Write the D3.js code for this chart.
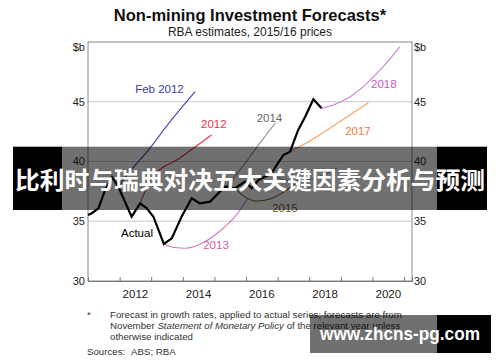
<!DOCTYPE html>
<html><head><meta charset="utf-8">
<script src="https://cdn.jsdelivr.net/npm/d3@7"></script>
<style>
html,body{margin:0;padding:0;background:#fff;}
svg{display:block;font-family:"Liberation Sans",Arial,sans-serif;}
</style></head>
<body>
<svg id="chart" width="500" height="362"></svg>
<script>
// ---------- data ----------
const title = "Non-mining Investment Forecasts*";
const subtitle = "RBA estimates, 2015/16 prices";
const yTicks = [30, 35, 40, 45];
const yGrid = [35, 40, 45];
const xYearTicks = [2012, 2013, 2014, 2015, 2016, 2017, 2018, 2019, 2020, 2021];
const xLabels = [2012, 2014, 2016, 2018, 2020];

const actualYears  = [2011.00,2011.12,2011.33,2011.54,2011.76,2011.96,2012.38,2012.65,2012.86,2013.07,2013.40,2013.65,2013.96,2014.28,2014.54,2014.86,2015.12,2015.33,2015.65,2015.97,2016.18,2016.39,2016.81,2016.97,2017.18,2017.39,2017.65,2017.87,2018.13,2018.39];
const actualValues = [35.52,35.67,36.08,37.62,38.70,37.89,35.38,36.50,36.08,35.38,33.10,33.57,35.38,36.92,36.50,36.64,37.34,37.89,37.76,38.31,37.76,38.45,39.01,39.71,40.54,40.82,42.64,43.75,45.21,44.45];

const feb2012Years  = [2011.96,2012.42,2012.91,2013.59,2014.39];
const feb2012Values = [37.89,39.46,40.96,43.31,45.84];
const f2012Years  = [2012.65,2013.02,2013.91,2014.91];
const f2012Values = [36.50,38.62,40.29,42.22];
const f2013Years  = [2013.40,2013.75,2014.07,2014.70,2015.33,2015.65,2016.06];
const f2013Values = [33.10,32.80,32.74,33.29,34.54,35.38,36.95];
const f2014Years  = [2014.86,2015.18,2015.55,2015.97,2016.44,2016.92];
const f2014Values = [36.64,37.45,38.45,39.85,41.55,43.20];
const f2015Years  = [2015.65,2015.97,2016.35,2016.76,2017.14,2017.55];
const f2015Values = [37.76,37.03,36.69,36.86,37.36,38.12];
const f2016Years  = [2016.81,2017.23,2017.71,2018.28,2018.88];
const f2016Values = [39.01,38.45,38.37,38.70,39.46];
const f2017Years  = [2017.39,2018.02,2018.66,2019.29,2019.87];
const f2017Values = [40.82,41.72,42.80,43.89,44.92];
const f2018Years  = [2018.39,2018.76,2019.29,2019.82,2020.34,2020.87];
const f2018Values = [44.45,44.73,45.42,46.54,47.93,49.61];

const seriesNames  = ["Feb 2012","2012","2013","2014","2015","2016","2017","2018"];
const seriesColors = ["#4444aa","#e8333f","#d27cbf","#8a8a8a","#8c6b2e","#6aa6d2","#f5a36c","#cc82dc"];
const labelText   = ["Feb 2012","2012","2013","2014","2015","2017","2018","Actual"];
const labelYears  = [2013.26,2014.98,2015.05,2016.74,2017.23,2019.54,2020.36,2012.55];
const labelValues = [46.07,43.14,33.01,43.64,36.11,42.55,46.49,34.02];
const labelColors = ["#3c3ca6","#e8333f","#d25ca8","#666666","#7a5a22","#f07a32","#c458c8","#000000"];

const footLines = ["Forecast in growth rates, applied to actual series; forecasts are from",
  "November |Statement of Monetary Policy| of the relevant year unless",
  "otherwise indicated"];
const bannerText = "比利时与瑞典对决五大关键因素分析与预测";
const watermarkText = "www.zhcns-pg.com";

// ---------- drawing ----------
const svg = d3.select("#chart");
const x = d3.scaleLinear().domain([2011, 2021.25]).range([88, 412]);
const y = d3.scaleLinear().domain([30, 50]).range([281, 42]);

svg.append("text").attr("x", 250).attr("y", 20.5).attr("text-anchor", "middle")
  .attr("font-size", 16.5).attr("font-weight", "bold").attr("fill", "#111").text(title);
svg.append("text").attr("x", 250).attr("y", 36).attr("text-anchor", "middle")
  .attr("font-size", 12).attr("fill", "#222").text(subtitle);

// grid
svg.append("g").selectAll("line").data(yGrid).join("line")
  .attr("x1", x.range()[0]).attr("x2", x.range()[1])
  .attr("y1", d => y(d)).attr("y2", d => y(d))
  .attr("stroke", "#c8c8c8").attr("stroke-width", 1);

// frame
svg.append("rect").attr("x", x.range()[0]).attr("y", y.range()[1])
  .attr("width", x.range()[1] - x.range()[0]).attr("height", y.range()[0] - y.range()[1])
  .attr("fill", "none").attr("stroke", "#8a8a8a").attr("stroke-width", 1);

// bottom ticks (inside)
const xAxis = d3.axisBottom(x).tickValues(xYearTicks).tickSize(-4).tickFormat("");
svg.append("g").attr("transform", `translate(0,${y.range()[0]})`).call(xAxis)
  .call(g => { g.select(".domain").attr("stroke", "#777"); g.selectAll(".tick line").attr("stroke", "#777"); });

svg.append("g").selectAll("text").data(xLabels).join("text")
  .attr("x", d => x(d + 0.5)).attr("y", 298).attr("text-anchor", "middle")
  .attr("font-size", 11.5).attr("fill", "#222").text(d => d);

// y labels left & right
const yl = svg.append("g").attr("font-size", 11).attr("fill", "#222");
yl.selectAll(".l").data(yTicks).join("text").attr("class", "l")
  .attr("x", 85).attr("y", d => y(d)).attr("dy", "0.35em").attr("text-anchor", "end").text(d => d);
yl.selectAll(".r").data(yTicks).join("text").attr("class", "r")
  .attr("x", 414).attr("y", d => y(d)).attr("dy", "0.35em").attr("text-anchor", "start").text(d => d);
yl.append("text").attr("x", 85).attr("y", y(50) + 5.5).attr("dy", "0.35em").attr("text-anchor", "end").text("$b");
yl.append("text").attr("x", 414).attr("y", y(50) + 5.5).attr("dy", "0.35em").attr("text-anchor", "start").text("$b");

// forecast lines
const fYears = [feb2012Years, f2012Years, f2013Years, f2014Years, f2015Years, f2016Years, f2017Years, f2018Years];
const fValues = [feb2012Values, f2012Values, f2013Values, f2014Values, f2015Values, f2016Values, f2017Values, f2018Values];
const smooth = d3.line().x(d => x(d[0])).y(d => y(d[1])).curve(d3.curveMonotoneX);
seriesNames.forEach((n, i) => {
  const pts = fYears[i].map((yr, j) => [yr, fValues[i][j]]);
  svg.append("path").datum(pts).attr("d", smooth).attr("fill", "none")
    .attr("stroke", seriesColors[i]).attr("stroke-width", 1.1);
});

// actual
const actualPts = actualYears.map((yr, j) => [yr, actualValues[j]]);
svg.append("path").datum(actualPts)
  .attr("d", d3.line().x(d => x(d[0])).y(d => y(d[1])))
  .attr("fill", "none").attr("stroke", "#000").attr("stroke-width", 2.2).attr("stroke-linejoin", "miter");

// series labels
svg.append("g").selectAll("text").data(labelText).join("text")
  .attr("x", (d, i) => x(labelYears[i])).attr("y", (d, i) => y(labelValues[i]))
  .attr("dy", "0.35em").attr("text-anchor", "middle").attr("font-size", 11.5)
  .attr("fill", (d, i) => labelColors[i]).text(d => d);

// footnotes
const fn = svg.append("g").attr("font-size", 9.7).attr("fill", "#333");
fn.append("text").attr("x", 87).attr("y", 318).text("*");
footLines.forEach((ln, i) => {
  const t = fn.append("text").attr("x", 110).attr("y", 317.5 + i * 11);
  ln.split("|").forEach((part, k) => {
    t.append("tspan").attr("font-style", k % 2 ? "italic" : "normal").text(part);
  });
});
fn.append("text").attr("x", 87).attr("y", 354.5).text("Sources:");
fn.append("text").attr("x", 131).attr("y", 354.5).text("ABS; RBA");

// overlay banner
svg.append("rect").attr("x", 13).attr("y", 146.7).attr("width", 49).attr("height", 63.3).attr("fill", "#000");
svg.append("rect").attr("x", 436.7).attr("y", 146.7).attr("width", 50.3).attr("height", 63.3).attr("fill", "#000");
svg.append("rect").attr("x", 62).attr("y", 146.7).attr("width", 374.7).attr("height", 63.3).attr("fill", "rgba(0,0,0,0.56)");
svg.append("text").attr("x", 250).attr("y", 181).attr("dy", "0.35em").attr("text-anchor", "middle")
  .attr("font-family", "'Noto Sans CJK SC',sans-serif").attr("font-weight", "bold")
  .attr("font-size", 23.5).attr("fill", "#fff")
  .attr("textLength", 470).attr("lengthAdjust", "spacingAndGlyphs").text(bannerText);

// watermark
svg.append("rect").attr("x", 310).attr("y", 315).attr("width", 127).attr("height", 38).attr("fill", "rgba(0,0,0,0.56)");
svg.append("rect").attr("x", 437).attr("y", 315).attr("width", 54).attr("height", 38).attr("fill", "#000");
svg.append("text").attr("x", 400).attr("y", 334).attr("dy", "0.35em").attr("text-anchor", "middle")
  .attr("font-family", "'Liberation Sans',Arial,sans-serif").attr("font-weight", "bold")
  .attr("font-size", 17.5).attr("fill", "#fff")
  .attr("textLength", 160).attr("lengthAdjust", "spacingAndGlyphs").text(watermarkText);
</script>
</body></html>
